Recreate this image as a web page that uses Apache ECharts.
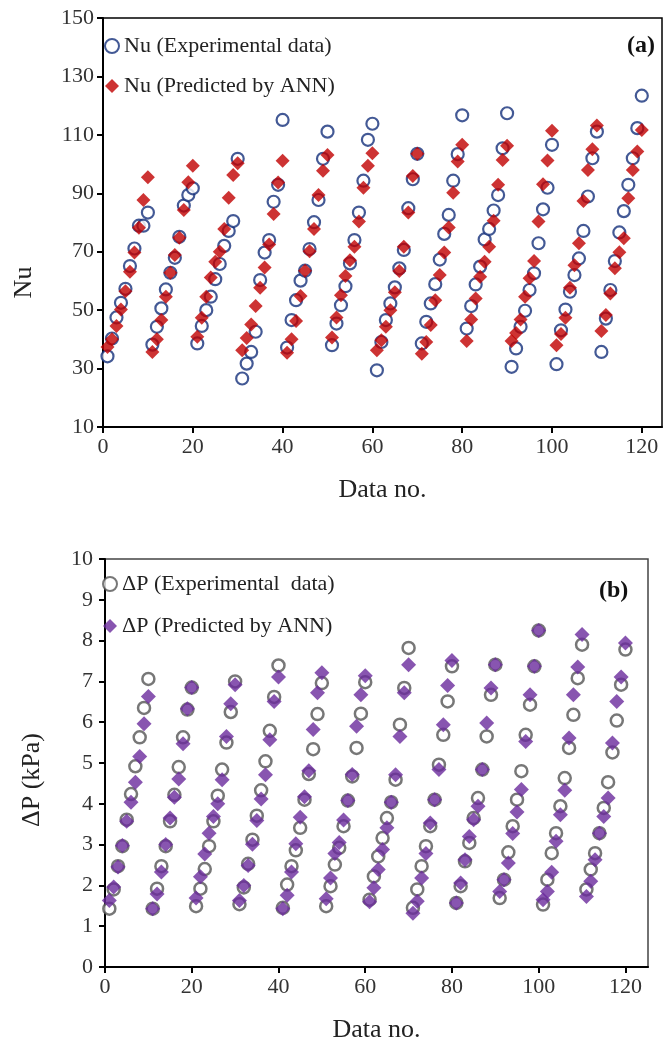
<!DOCTYPE html>
<html>
<head>
<meta charset="utf-8">
<script src="https://cdn.jsdelivr.net/npm/echarts@6/dist/echarts.min.js"></script>
<style>
  html, body { margin: 0; padding: 0; background: #fff; }
  #chart { width: 663px; height: 1046px; }
</style>
</head>
<body>
<div id="chart"></div>
<script>
// Nu, 12 runs of 10 data points
const nuExp = [
  34.2, 40.3, 47.5, 52.5, 57.3, 65.1, 71.1, 78.9, 78.9, 83.4,
  38.2, 44.3, 50.6, 57.1, 62.8, 67.9, 75.1, 85.8, 89.4, 91.7,
  38.6, 44.6, 50.0, 54.6, 60.6, 65.8, 72.0, 77.1, 80.5, 101.8,
  26.6, 31.7, 35.7, 42.6, 60.3, 69.7, 74.0, 87.1, 92.9, 115.1,
  37.2, 46.6, 53.4, 60.1, 63.5, 70.9, 80.1, 87.7, 101.8, 111.1,
  38.0, 45.4, 51.7, 58.2, 66.0, 74.0, 83.4, 94.3, 108.3, 113.8,
  29.4, 39.1, 46.6, 52.3, 57.8, 64.3, 70.6, 84.9, 94.8, 103.5,
  38.6, 46.0, 52.3, 58.9, 67.3, 76.1, 82.6, 94.3, 103.4, 116.7,
  43.7, 51.4, 58.8, 64.9, 74.2, 77.8, 84.1, 89.4, 105.4, 117.4,
  30.6, 36.9, 44.3, 49.8, 56.9, 62.6, 72.9, 84.5, 91.9, 106.6,
  31.5, 43.1, 50.2, 56.3, 62.0, 67.7, 77.1, 88.9, 102.0, 111.1,
  35.7, 47.1, 56.9, 66.8, 76.6, 83.9, 92.9, 102.0, 112.3, 123.4
];
const nuPred = [
  37.4, 40.0, 44.6, 50.2, 56.5, 63.1, 69.7, 78.2, 87.7, 95.5,
  35.7, 40.0, 46.6, 54.6, 62.8, 68.9, 74.8, 84.3, 93.8, 99.4,
  40.9, 47.4, 54.6, 61.2, 66.6, 70.0, 77.8, 88.5, 96.3, 100.3,
  36.3, 40.5, 45.1, 51.4, 57.7, 64.6, 72.5, 82.9, 93.7, 101.1,
  35.4, 40.0, 46.3, 54.8, 63.5, 70.2, 77.8, 89.4, 97.7, 103.1,
  40.6, 47.5, 55.1, 61.7, 67.1, 71.7, 80.3, 91.9, 99.4, 103.7,
  36.3, 39.7, 44.3, 50.0, 56.1, 63.4, 71.7, 83.4, 95.9, 103.5,
  35.1, 39.1, 44.9, 53.4, 62.0, 69.7, 78.3, 90.2, 100.9, 106.6,
  39.4, 46.8, 54.0, 61.4, 66.6, 71.7, 80.6, 92.9, 101.4, 106.3,
  39.4, 42.2, 46.8, 54.6, 60.9, 66.8, 80.3, 93.1, 101.2, 111.4,
  38.0, 41.8, 47.4, 57.7, 65.4, 72.9, 87.4, 98.0, 105.1, 113.2,
  42.9, 48.3, 55.7, 64.3, 69.8, 74.6, 88.3, 98.0, 104.3, 111.7
];

// pressure drop (kPa)
const dpExp = [
  1.43, 1.90, 2.47, 2.96, 3.61, 4.24, 4.92, 5.63, 6.35, 7.06,
  1.43, 1.92, 2.47, 2.96, 3.57, 4.22, 4.90, 5.63, 6.31, 6.85,
  1.49, 1.92, 2.40, 2.96, 3.57, 4.20, 4.84, 5.50, 6.25, 7.00,
  1.54, 1.95, 2.53, 3.12, 3.71, 4.33, 5.04, 5.79, 6.62, 7.39,
  1.45, 2.02, 2.47, 2.86, 3.41, 4.10, 4.73, 5.34, 6.20, 6.96,
  1.49, 1.98, 2.51, 2.92, 3.45, 4.08, 4.67, 5.37, 6.21, 6.98,
  1.65, 2.22, 2.71, 3.16, 3.65, 4.04, 4.59, 5.94, 6.84, 7.82,
  1.45, 1.90, 2.47, 2.96, 3.45, 4.10, 4.96, 5.69, 6.51, 7.37,
  1.57, 1.98, 2.59, 3.04, 3.65, 4.14, 4.84, 5.65, 6.67, 7.41,
  1.69, 2.14, 2.81, 3.45, 4.10, 4.80, 5.69, 6.43, 7.37, 8.25,
  1.53, 2.14, 2.79, 3.28, 3.94, 4.63, 5.37, 6.18, 7.08, 7.90,
  1.90, 2.39, 2.79, 3.28, 3.90, 4.53, 5.26, 6.04, 6.92, 7.78
];
const dpPred = [
  1.63, 1.96, 2.45, 2.98, 3.57, 4.04, 4.53, 5.16, 5.96, 6.63,
  1.43, 1.79, 2.33, 3.00, 3.65, 4.16, 4.61, 5.47, 6.33, 6.85,
  1.69, 2.21, 2.77, 3.28, 3.69, 4.00, 4.59, 5.65, 6.45, 6.92,
  1.63, 2.00, 2.49, 3.01, 3.59, 4.12, 4.71, 5.57, 6.51, 7.11,
  1.43, 1.76, 2.33, 3.02, 3.67, 4.17, 4.81, 5.82, 6.72, 7.21,
  1.67, 2.18, 2.78, 3.05, 3.60, 4.08, 4.72, 5.90, 6.67, 7.14,
  1.60, 1.94, 2.39, 2.88, 3.41, 4.04, 4.71, 5.65, 6.72, 7.41,
  1.32, 1.61, 2.18, 2.78, 3.53, 4.10, 4.84, 5.94, 6.90, 7.51,
  1.57, 2.06, 2.63, 3.20, 3.61, 3.94, 4.84, 5.98, 6.84, 7.41,
  1.85, 2.14, 2.55, 3.27, 3.80, 4.35, 5.53, 6.67, 7.37, 8.25,
  1.65, 1.85, 2.32, 3.08, 3.73, 4.33, 5.61, 6.67, 7.35, 8.15,
  1.73, 2.10, 2.63, 3.28, 3.69, 4.14, 5.49, 6.51, 7.11, 7.94
];

const xTicks = [0, 20, 40, 60, 80, 100, 120];

// data no. starts at 1
function pairs(vals) {
  return vals.map((v, i) => [i + 1, v]);
}

const serif = 'Liberation Serif';

function xAxisOf(gridIndex, max) {
  return {
    type: 'value',
    gridIndex: gridIndex,
    min: 0,
    max: max,
    interval: 20,
    name: 'Data no.',
    nameLocation: 'middle',
    nameGap: 50,
    nameTextStyle: { fontFamily: serif, fontSize: 26, color: '#222' },
    axisLine: { show: true, onZero: false, lineStyle: { color: '#000', width: 2 } },
    axisTick: { show: true, length: 6, lineStyle: { color: '#000', width: 2 } },
    axisLabel: {
      fontFamily: serif, fontSize: 22, color: '#333', margin: 9,
      showMaxLabel: false,
      formatter: v => (xTicks.indexOf(v) >= 0 ? String(v) : '')
    },
    splitLine: { show: false }
  };
}

let myChart = echarts.init(document.getElementById('chart'));
let option = {
  backgroundColor: '#fff',
  animation: false,
  grid: [
    { left: 103, right: 1, top: 18, bottom: 619, show: true, borderColor: '#000', borderWidth: 1.5 },
    { left: 105, right: 15, top: 559, bottom: 79, show: true, borderColor: '#444', borderWidth: 1.5 }
  ],
  legend: [
    {
      data: ['Nu (Experimental data)', 'Nu (Predicted by ANN)'],
      orient: 'vertical',
      left: 99, top: 30,
      itemGap: 18,
      itemWidth: 14, itemHeight: 14,
      textStyle: { fontFamily: serif, fontSize: 22, color: '#222' }
    },
    {
      data: ['ΔP (Experimental  data)', 'ΔP (Predicted by ANN)'],
      orient: 'vertical',
      left: 97, top: 568,
      itemGap: 20,
      itemWidth: 14, itemHeight: 14,
      textStyle: { fontFamily: serif, fontSize: 22, color: '#222' }
    }
  ],
  xAxis: [xAxisOf(0, 124.5), xAxisOf(1, 125.2)],
  yAxis: [
    {
      type: 'value', gridIndex: 0, min: 10, max: 150, interval: 20,
      name: 'Nu', nameLocation: 'middle', nameGap: 66, nameRotate: 90,
      nameTextStyle: { fontFamily: serif, fontSize: 26, color: '#222', padding: [0, 120, 0, 0] },
      axisLine: { show: true, lineStyle: { color: '#000', width: 2 } },
      axisTick: { show: true, length: 6, lineStyle: { color: '#000', width: 2 } },
      axisLabel: { fontFamily: serif, fontSize: 22, color: '#333', margin: 9 },
      splitLine: { show: false }
    },
    {
      type: 'value', gridIndex: 1, min: 0, max: 10, interval: 1,
      name: 'ΔP (kPa)', nameLocation: 'middle', nameGap: 60, nameRotate: 90,
      nameTextStyle: { fontFamily: serif, fontSize: 26, color: '#222', padding: [0, 34, 0, 0] },
      axisLine: { show: true, lineStyle: { color: '#000', width: 2 } },
      axisTick: { show: true, length: 6, lineStyle: { color: '#000', width: 2 } },
      axisLabel: { fontFamily: serif, fontSize: 22, color: '#333', margin: 12 },
      splitLine: { show: false }
    }
  ],
  series: [
    {
      name: 'Nu (Experimental data)', type: 'scatter',
      xAxisIndex: 0, yAxisIndex: 0,
      symbol: 'circle', symbolSize: 12,
      itemStyle: { color: '#fff', borderColor: '#14307a', borderWidth: 2.2 },
      data: pairs(nuExp)
    },
    {
      name: 'Nu (Predicted by ANN)', type: 'scatter',
      xAxisIndex: 0, yAxisIndex: 0,
      symbol: 'diamond', symbolSize: 14,
      itemStyle: { color: '#c00000' },
      data: pairs(nuPred)
    },
    {
      name: 'ΔP (Experimental  data)', type: 'scatter',
      xAxisIndex: 1, yAxisIndex: 1,
      symbol: 'circle', symbolSize: 12,
      itemStyle: { color: '#fff', borderColor: '#555', borderWidth: 2.5 },
      data: pairs(dpExp)
    },
    {
      name: 'ΔP (Predicted by ANN)', type: 'scatter',
      xAxisIndex: 1, yAxisIndex: 1,
      symbol: 'diamond', symbolSize: 15,
      itemStyle: { color: '#6a2a9c' },
      data: pairs(dpPred)
    }
  ],
  graphic: [
    {
      type: 'text', right: 8, top: 34,
      style: { text: '(a)', font: 'bold 24px "Liberation Serif"', fill: '#111' }
    },
    {
      type: 'text', left: 599, top: 579,
      style: { text: '(b)', font: 'bold 24px "Liberation Serif"', fill: '#111' }
    }
  ]
};
option && myChart.setOption(option);
</script>
</body>
</html>
